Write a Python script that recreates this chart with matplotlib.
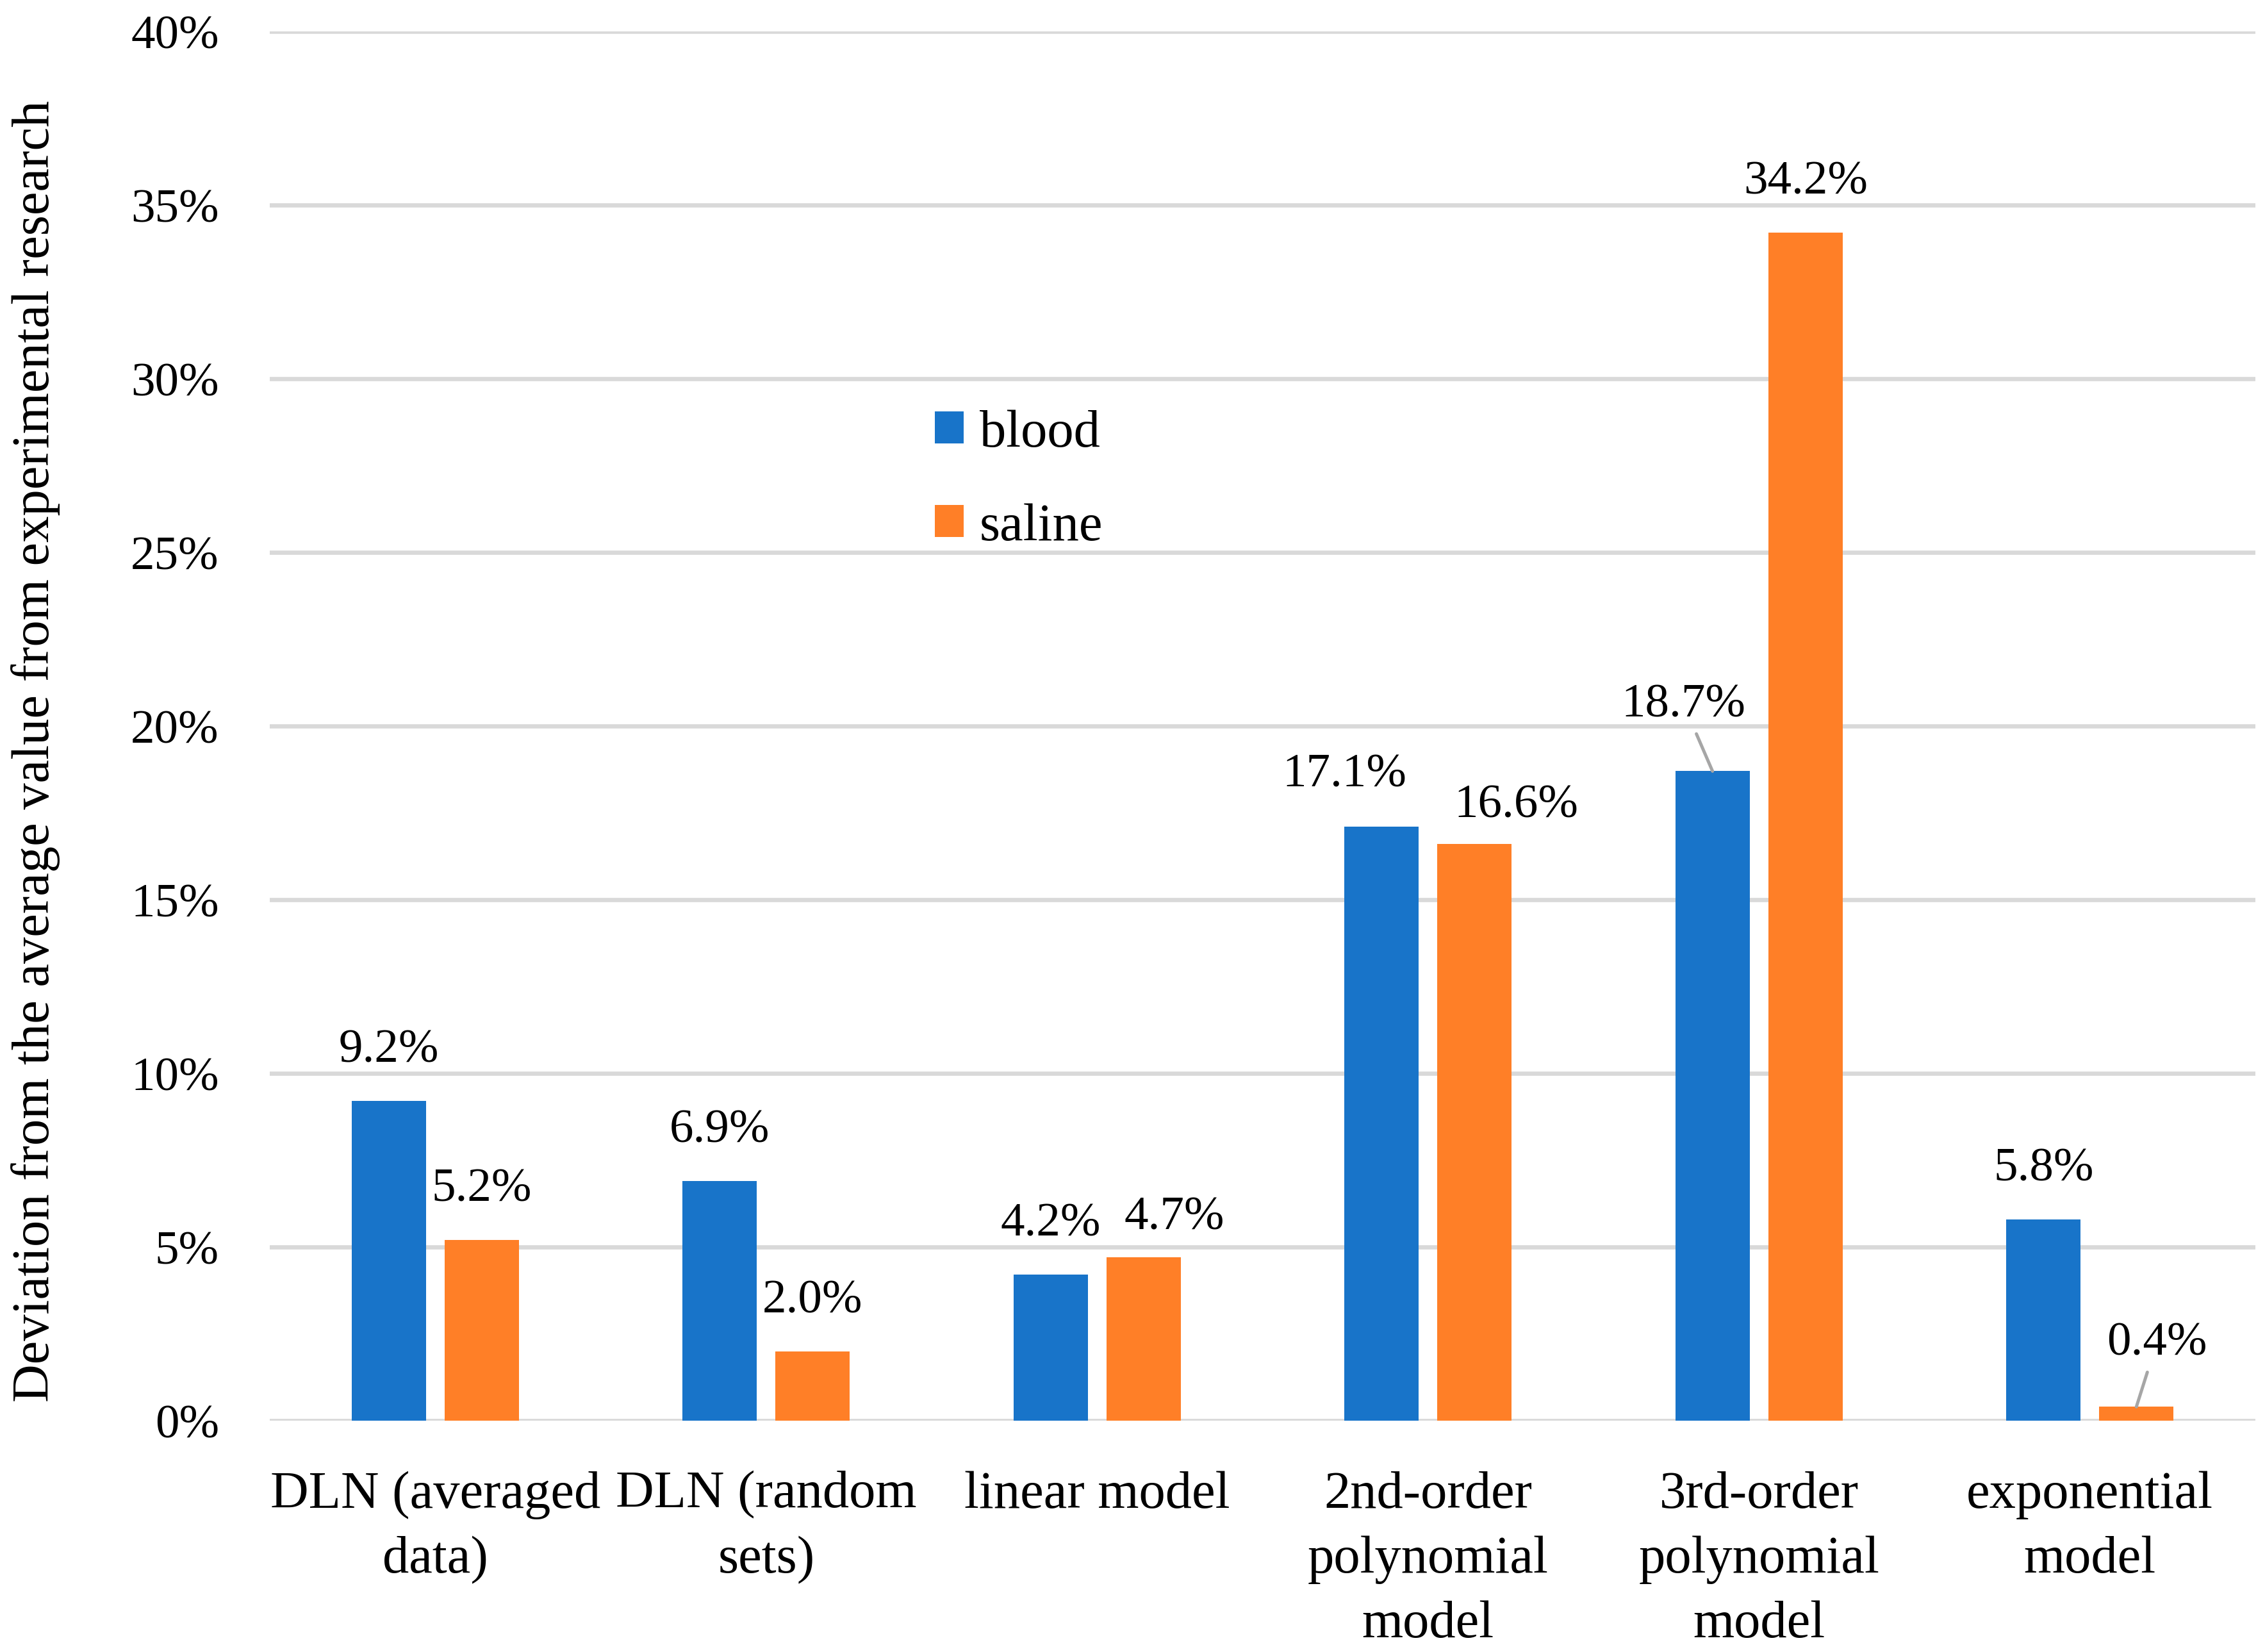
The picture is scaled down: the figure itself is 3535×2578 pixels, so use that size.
import matplotlib
matplotlib.use("Agg")
import matplotlib.pyplot as plt
import numpy as np

categories = ["DLN (averaged\ndata)", "DLN (random\nsets)", "linear model",
              "2nd-order\npolynomial\nmodel", "3rd-order\npolynomial\nmodel",
              "exponential\nmodel"]
series_names = ["blood", "saline"]
blood = [9.2, 6.9, 4.2, 17.1, 18.7, 5.8]
saline = [5.2, 2.0, 4.7, 16.6, 34.2, 0.4]
yticks = [0, 5, 10, 15, 20, 25, 30, 35, 40]
ylabel = "Deviation from the average value from experimental research"

BLUE = "#1874C9"
ORANGE = "#FF7F27"
GRID = "#D9D9D9"
FONT = "Liberation Serif"
NUM_FS = 18
WORD_FS = 19.8

plt.rcParams['font.family'] = [FONT, 'DejaVu Serif']

W, H = 3535, 2579
fig = plt.figure(figsize=(W / 300, H / 300), dpi=300)
left_px, right_px = 421, 3520
top_px, bot_px = 50, 2218
ax = fig.add_axes([left_px / W, 1 - bot_px / H, (right_px - left_px) / W, (bot_px - top_px) / H])

x = np.arange(len(categories))
bw = 0.2245
off = 0.1404
b1 = ax.bar(x - off, blood, width=bw, color=BLUE, label=series_names[0], zorder=3)
b2 = ax.bar(x + off, saline, width=bw, color=ORANGE, label=series_names[1], zorder=3)

ax.set_xlim(-0.5, len(categories) - 0.5)
ax.set_ylim(0, 40)
ax.set_yticks(yticks)
ax.set_yticklabels([f"{v}%" for v in yticks], fontsize=NUM_FS)
ax.set_xticks(x)
ax.set_xticklabels(categories, fontsize=WORD_FS, linespacing=1.45)
ax.tick_params(axis='both', length=0)
ax.tick_params(axis='y', pad=19)
ax.tick_params(axis='x', pad=18.5)
for s in ax.spines.values():
    s.set_visible(False)
ax.yaxis.grid(True, color=GRID, linewidth=1.6, zorder=0)
ax.set_axisbelow(True)

fig.text(56 / W, 1 - 1172 / H, ylabel, rotation=90, ha='center', va='center', fontsize=WORD_FS)

# data labels: offsets (points) for labels that Excel nudged
nudged = {("blood", 3): (-14, 19.5), ("saline", 3): (15.6, 14.6),
          ("saline", 2): (11.4, 15)}
leader = {("blood", 4): (-10.8, 25), ("saline", 5): (7.6, 24)}
for name, vals in ((series_names[0], blood), (series_names[1], saline)):
    sign = -1 if name == "blood" else 1
    for i, v in enumerate(vals):
        xc = x[i] + sign * off
        key = (name, i)
        if key in leader:
            dx, dy = leader[key]
            ax.annotate(f"{v:.1f}%", xy=(xc, v), xytext=(dx, dy), textcoords='offset points',
                        ha='center', va='center', fontsize=NUM_FS,
                        arrowprops=dict(arrowstyle='-', color='#A6A6A6', lw=1.2,
                                        shrinkA=1, shrinkB=0))
        else:
            dx, dy = nudged.get(key, (0, 19))
            ax.annotate(f"{v:.1f}%", xy=(xc, v), xytext=(dx, dy), textcoords='offset points',
                        ha='center', va='center', fontsize=NUM_FS)

leg = fig.legend(handles=[b1, b2], labels=series_names, loc='upper left',
                 bbox_to_anchor=(1459 / W, 1 - 640 / H), frameon=False,
                 fontsize=WORD_FS, handlelength=0.55, handleheight=0.55,
                 handletextpad=0.3, labelspacing=0.85, borderpad=0, borderaxespad=0)

fig.savefig("out.png", dpi=300)
